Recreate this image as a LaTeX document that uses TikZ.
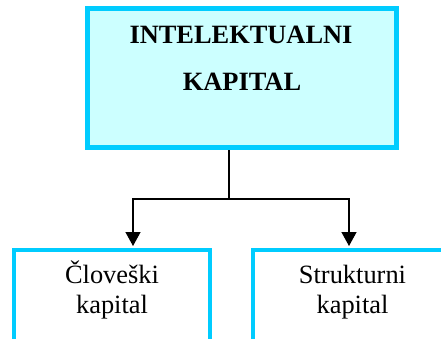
\documentclass[tikz,border=0pt]{standalone}
\usepackage{fontspec}
\setmainfont{Liberation Serif}
\usetikzlibrary{arrows.meta}
\definecolor{boxline}{HTML}{00CCFF}
\definecolor{boxfill}{HTML}{CCFFFF}
\tikzset{
  mainbox/.style={draw=boxline, line width=5pt, fill=boxfill, inner sep=0pt},
  subbox/.style={draw=boxline, line width=3.8pt, inner sep=0pt},
  label/.style={anchor=base, inner sep=0pt, font=\fontsize{26.4}{30}\selectfont},
  link/.style={line width=1.3pt, -{Triangle[width=15pt,length=14pt]}},
}
\begin{document}
\begin{tikzpicture}[x=1pt,y=1pt]
  \useasboundingbox (0,0) rectangle (441,-338);
  \clip (0,0) rectangle (441,-338);
  \fill[white] (0,0) rectangle (441,-338);
  % top box
  \node[mainbox, minimum width=309pt, minimum height=139pt] (ic) at (242,-78) {};
  \node[label, font=\fontsize{26.4}{30}\selectfont\bfseries] (t1) at (241,-43) {INTELEKTUALNI};
  \node[label, font=\fontsize{26.4}{30}\selectfont\bfseries] (t2) at (242,-90) {KAPITAL};
  % lower boxes (run past the page edge)
  \node[subbox, minimum width=196pt, minimum height=120pt, anchor=north] (hc) at (112,-248) {};
  \node[subbox, minimum width=196pt, minimum height=120pt, anchor=north] (sc) at (351,-248) {};
  \node[label] (h1) at (112,-283) {Človeški};
  \node[label] (h2) at (112,-313) {kapital};
  \node[label] (s1) at (352.5,-283) {Strukturni};
  \node[label] (s2) at (352.5,-313) {kapital};
  % connectors
  \coordinate (split) at (229,-199);
  \coordinate (hcTop) at (133,-246);
  \coordinate (scTop) at (349,-246);
  \draw[line width=1.3pt] (ic.south -| split) -- (split);
  \draw[link] (split) -| (hcTop);
  \draw[link] (split) -| (scTop);
\end{tikzpicture}
\end{document}
